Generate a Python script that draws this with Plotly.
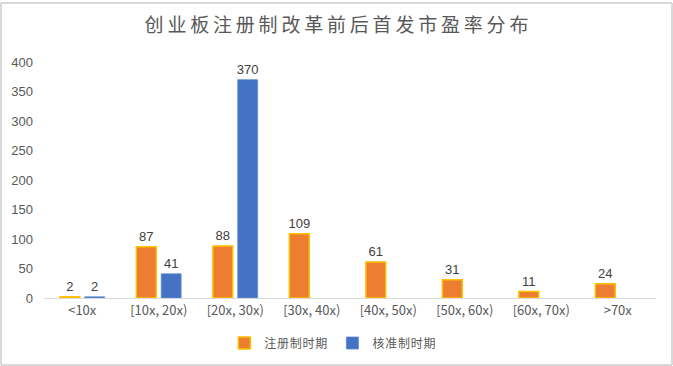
import plotly.graph_objects as go

categories = ["<10x", "[10x, 20x)", "[20x, 30x)", "[30x, 40x)", "[40x, 50x)", "[50x, 60x)", "[60x, 70x)", ">70x"]
registration = [2, 87, 88, 109, 61, 31, 11, 24]
approval = [2, 41, 370, None, None, None, None, None]
y_ticks = [0, 50, 100, 150, 200, 250, 300, 350, 400]

title_text = "创业板注册制改革前后首发市盈率分布"
name_reg = "注册制时期"
name_app = "核准制时期"


def spaced(s, sep="\u2009"):
    return sep.join(s)


cjk = "Noto Sans CJK SC"
grey = "#595959"

fig = go.Figure()
fig.add_trace(go.Bar(
    x=categories, y=registration, name=spaced(name_reg, "\u200a"),
    marker=dict(color="#ED7D31", line=dict(color="#FFC000", width=1.5)),
    text=registration, textposition="outside", cliponaxis=False, constraintext="none",
    textfont=dict(family="Liberation Sans, Arial", size=13, color="#404040"),
))
fig.add_trace(go.Bar(
    x=categories, y=approval, name=spaced(name_app, "\u200a"),
    marker=dict(color="#4472C4", line=dict(color="#5B8BD6", width=0.8)),
    text=[("" if v is None else v) for v in approval], textposition="outside", cliponaxis=False,
    constraintext="none",
    textfont=dict(family="Liberation Sans, Arial", size=13, color="#404040"),
))

border = dict(color="#D9D9D9", width=2)
top = 1 + 59 / 236
fig.update_layout(
    width=673, height=366,
    margin=dict(l=44, r=17, t=62, b=68, autoexpand=False),
    paper_bgcolor="white", plot_bgcolor="white",
    barmode="group", bargap=0.35, bargroupgap=0.2,
    title=dict(text=spaced(title_text), x=0.5, xanchor="center", y=1 - 25 / 366, yanchor="middle",
               yref="container",
               font=dict(family=cjk, size=19, color=grey)),
    legend=dict(orientation="h", x=0.472, xanchor="center", xref="paper",
                y=1 - 343 / 366, yanchor="middle", yref="container",
                font=dict(family=cjk, size=12, color=grey), itemwidth=30,
                traceorder="normal"),
    showlegend=True,
    xaxis=dict(showline=True, linecolor="#D9D9D9", linewidth=1, ticks="",
               tickfont=dict(family=cjk, size=13, color=grey), showgrid=False),
    yaxis=dict(range=[0, 400], tickvals=y_ticks, showgrid=False, zeroline=False,
               tickfont=dict(family="Liberation Sans, Arial", size=13, color=grey), ticks="",
               ticklabelstandoff=10),
    shapes=[
        dict(type="line", xref="paper", yref="paper", x0=-43 / 612, x1=1 + 16 / 612,
             y0=top, y1=top, line=border),
        dict(type="line", xref="paper", yref="paper", x0=-43 / 612, x1=1 + 16 / 612,
             y0=-67 / 236, y1=-67 / 236, line=border),
        dict(type="line", xref="paper", yref="paper", x0=-43 / 612, x1=-43 / 612,
             y0=-67 / 236, y1=top, line=border),
        dict(type="line", xref="paper", yref="paper", x0=1 + 16 / 612, x1=1 + 16 / 612,
             y0=-67 / 236, y1=top, line=border),
    ],
)

fig.write_html("out.html", config={"displayModeBar": False},
               post_script="document.body.style.margin='0px';document.body.style.overflow='hidden';")
